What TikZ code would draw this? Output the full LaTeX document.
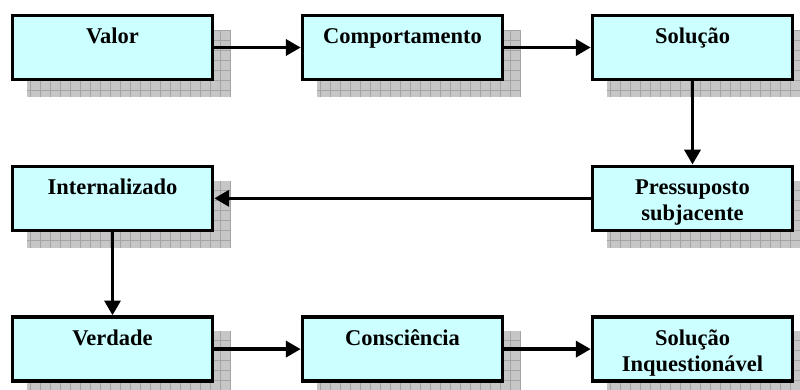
\documentclass[tikz,border=0pt]{standalone}
\usepackage{fontspec}
\setmainfont{Liberation Serif}
\usetikzlibrary{positioning,calc,backgrounds,arrows.meta}
\definecolor{boxfill}{HTML}{CCFFFF}
\definecolor{shadowfill}{HTML}{C6C6C6}
\definecolor{shadowgrid}{HTML}{A4A4A4}

\begin{document}
\begin{tikzpicture}[font=\fontsize{16}{18.5}\selectfont\bfseries,
		box/.style={draw,
			fill=boxfill,
			line width=0.09cm,
			minimum width=5cm,
			text width=4.8cm,
			align=center,
			inner sep=0.1cm,
			text height=0.6cm,
			text depth=0.8cm
		},
		arr/.style={-{Triangle[length=0.37cm,width=0.4cm]}, line width=0.085cm}
	]
		\useasboundingbox (0,0) rectangle (20,-9.725);

		\node[box] (valor) at (2.8125,-1.1875) {Valor};
		\node[box, right=2.16cm of valor] (comportamento) {Comportamento};
		\node[box, right=2.16cm of comportamento] (solucao) {Solução};

		\node[box, below=2.08cm of solucao] (pressuposto) {Pressuposto\\subjacente};
		\node[box, below=2.08cm of valor] (internalizado) {Internalizado};

		\node[box, below=2.08cm of internalizado] (verdade) {Verdade};
		\node[box, right=2.16cm of verdade] (consciencia) {Consciência};
		\node[box, right=2.16cm of consciencia] (inquestionavel) {Solução\\Inquestionável};

		% shadows
		\begin{scope}[on background layer]
			\foreach \n in {valor,comportamento,solucao,pressuposto,internalizado,verdade,consciencia,inquestionavel}{
				\fill[shadowfill] ($(\n.south west)+(0.4,-0.4)$) rectangle ($(\n.north east)+(0.4,-0.4)$);
				\draw[shadowgrid, line width=0.5pt, step=0.25cm] ($(\n.south west)+(0.4,-0.4)$) grid ($(\n.north east)+(0.4,-0.4)$);
			}
		\end{scope}

		\draw[arr] (valor) -- (comportamento);
		\draw[arr] (comportamento) -- (solucao);
		\draw[arr] (solucao) -- (pressuposto);
		\draw[arr] (pressuposto) -- (internalizado);
		\draw[arr] (internalizado) -- (verdade);
		\draw[arr] (verdade) -- (consciencia);
		\draw[arr] (consciencia) -- (inquestionavel);

	\end{tikzpicture}
\end{document}
